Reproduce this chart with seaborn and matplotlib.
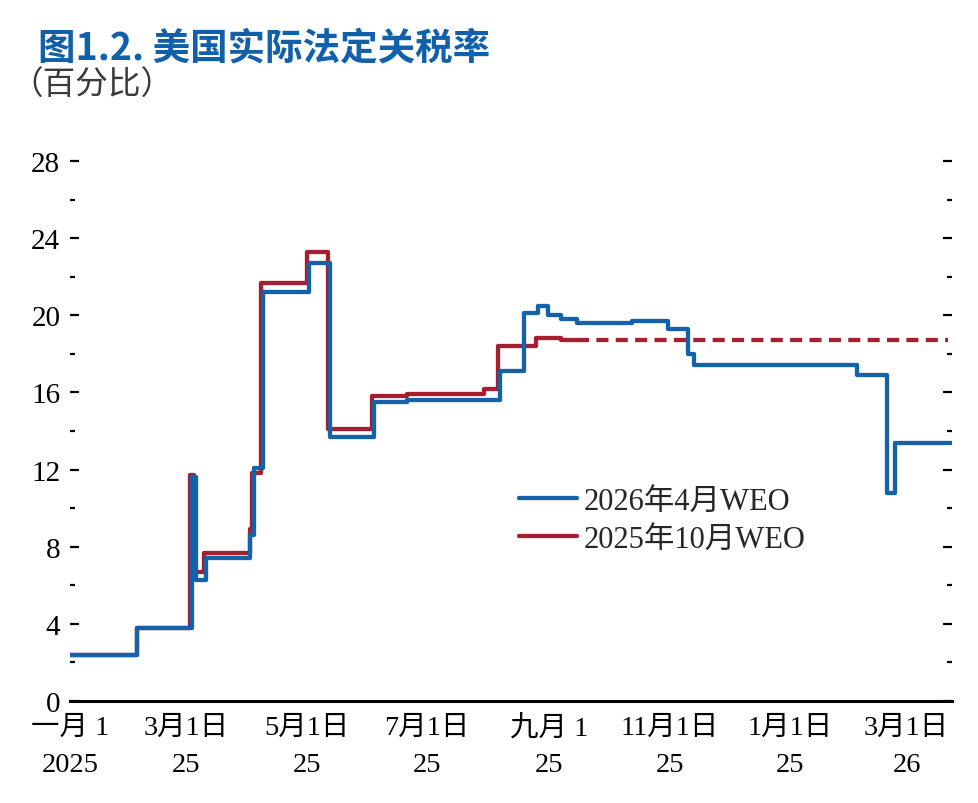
import matplotlib
matplotlib.use("Agg")
import matplotlib.pyplot as plt
import matplotlib.dates as mdates
from matplotlib.ticker import MultipleLocator, FixedLocator
import seaborn as sns
import pandas as pd

# ---------------- data ----------------
blue_dates = ['2025-01-01', '2025-02-04', '2025-03-04', '2025-03-06', '2025-03-11',
              '2025-04-02', '2025-04-04', '2025-04-09', '2025-05-02', '2025-05-13',
              '2025-06-04', '2025-06-21', '2025-08-07', '2025-08-19', '2025-08-26',
              '2025-08-31', '2025-09-07', '2025-09-15', '2025-10-13', '2025-10-31',
              '2025-11-10', '2025-11-13', '2026-02-04', '2026-02-19', '2026-02-23',
              '2026-03-24']
blue_values = [2.4, 3.8, 11.6, 6.3, 7.4,
               8.6, 12.1, 21.2, 22.7, 13.7,
               15.5, 15.6, 17.1, 20.1, 20.5,
               20.0, 19.8, 19.6, 19.7, 19.3,
               18.0, 17.4, 16.9, 10.8, 13.4,
               13.4]

red_dates = ['2025-01-01', '2025-02-04', '2025-03-03', '2025-03-05', '2025-03-10',
             '2025-04-02', '2025-04-03', '2025-04-08', '2025-05-01', '2025-05-12',
             '2025-06-03', '2025-06-21', '2025-07-30', '2025-08-06', '2025-08-25',
             '2025-09-07', '2025-09-15']
red_values = [2.4, 3.8, 11.7, 6.7, 7.7,
              8.9, 11.8, 21.7, 23.3, 14.1,
              15.8, 15.9, 16.2, 18.4, 18.8,
              18.7, 18.7]

red_proj_dates = ['2025-09-15', '2026-03-22']
red_proj_values = [18.7, 18.7]

series_labels = ['2026年4月WEO', '2025年10月WEO']
x_tick_dates = ['2025-01-01', '2025-03-01', '2025-05-01', '2025-07-01',
                '2025-09-01', '2025-11-01', '2026-01-01', '2026-03-01']
x_tick_month_labels = ['一月 1', '3月1日', '5月1日', '7月1日',
                       '九月 1', '11月1日', '1月1日', '3月1日']
x_tick_year_labels = ['2025', '25', '25', '25', '25', '25', '25', '26']
y_ticks = [0, 4, 8, 12, 16, 20, 24, 28]

title_text = '图1.2. 美国实际法定关税率'
subtitle_text = '（百分比）'

# ---------------- style ----------------
sns.set_style('white')
plt.rcParams['font.family'] = ['Liberation Serif', 'Noto Sans CJK SC', 'DejaVu Sans']

BLUE = '#1462a8'
RED = '#a51f30'
TITLE_BLUE = '#1160ab'

df_blue = pd.DataFrame({'date': pd.to_datetime(blue_dates), 'value': blue_values})
df_red = pd.DataFrame({'date': pd.to_datetime(red_dates), 'value': red_values})
df_proj = pd.DataFrame({'date': pd.to_datetime(red_proj_dates), 'value': red_proj_values})

fig = plt.figure(figsize=(9.79, 8.04), dpi=100)
ax = fig.add_axes([70 / 979, 1 - 702 / 804, 882 / 979, 540 / 804])

lw = 3.1
sns.lineplot(data=df_proj, x='date', y='value', ax=ax, color=RED, lw=lw,
             dashes=False, linestyle=(0, (2.8, 1.7)), zorder=2)
sns.lineplot(data=df_red, x='date', y='value', ax=ax, color=RED, lw=lw,
             drawstyle='steps-post', label=series_labels[1], zorder=3)
sns.lineplot(data=df_blue, x='date', y='value', ax=ax, color=BLUE, lw=lw,
             drawstyle='steps-post', label=series_labels[0], zorder=4)

ax.set_xlim(pd.Timestamp('2025-01-01'), pd.Timestamp('2026-03-24'))
ax.set_ylim(0, 28)
ax.set_xlabel('')
ax.set_ylabel('')

# spines
for s in ['left', 'right', 'top']:
    ax.spines[s].set_visible(False)
ax.spines['bottom'].set_linewidth(2.2)
ax.spines['bottom'].set_color('black')

# x ticks: month line as major labels, year line as minor labels
tick_nums = mdates.date2num(pd.to_datetime(x_tick_dates))
ax.xaxis.remove_overlapping_locs = False
ax.xaxis.set_major_locator(FixedLocator(tick_nums))
ax.xaxis.set_minor_locator(FixedLocator(tick_nums))
ax.set_xticklabels(x_tick_month_labels)
ax.set_xticklabels(x_tick_year_labels, minor=True)
ax.tick_params(axis='x', which='major', direction='in', length=7, width=1.3,
               pad=10, labelsize=20.5, colors='black')
ax.tick_params(axis='x', which='minor', direction='in', length=0, width=0,
               pad=37, labelsize=20.5, colors='black')

# y ticks
ax.yaxis.set_major_locator(FixedLocator(y_ticks))
ax.yaxis.set_minor_locator(MultipleLocator(2))
ax.set_yticklabels([str(v) for v in y_ticks])
ax.tick_params(axis='y', which='both', direction='in', left=True, right=True,
               labelleft=True, labelright=False, colors='black')
ax.tick_params(axis='y', which='major', length=6.5, width=1.6, pad=7, labelsize=21)
ax.tick_params(axis='y', which='minor', length=3.5, width=1.6)

# legend
handles, labels = ax.get_legend_handles_labels()
order = [labels.index(series_labels[0]), labels.index(series_labels[1])]
leg = ax.legend([handles[i] for i in order], [labels[i] for i in order],
                loc='upper left', bbox_to_anchor=((519 - 70) / 882, (702 - 488) / 540),
                frameon=False, fontsize=22, handlelength=1.9, handletextpad=0.22,
                labelspacing=0.28, borderpad=0, borderaxespad=0)
for h in leg.get_lines():
    h.set_linewidth(lw)
    h.set_linestyle('-')

# titles
fig.text(38 / 979, 1 - 28 / 804, title_text, fontsize=27, fontweight='bold',
         color=TITLE_BLUE, va='top', ha='left',
         family=['Noto Sans CJK SC', 'DejaVu Sans'])
fig.text(10 / 979, 1 - 70 / 804, subtitle_text, fontsize=23.5, color='#3a3a3a',
         va='top', ha='left', family=['Noto Sans CJK SC', 'DejaVu Sans'])

fig.savefig('out.png', dpi=100)
